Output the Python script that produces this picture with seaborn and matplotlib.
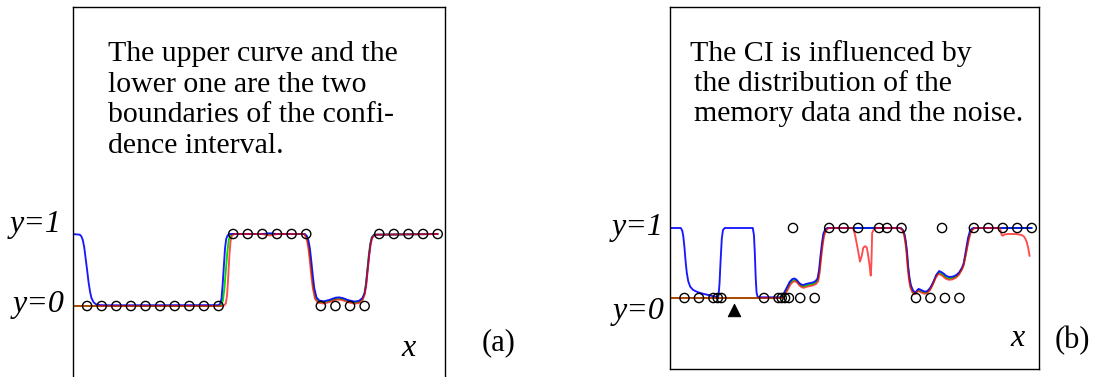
import numpy as np
import pandas as pd
import matplotlib
matplotlib.use("Agg")
import matplotlib.pyplot as plt
from matplotlib import font_manager
import seaborn as sns

# ---------------- panel (a) ----------------
a_mem_x = list(range(1, 26))
a_mem_y = [0] * 10 + [1] * 6 + [0] * 4 + [1] * 5

a_upper_x = [0, 0.5, 0.6, 0.7, 0.8, 0.9, 1.0, 1.1, 1.2, 1.3, 1.45, 1.6, 1.9, 2.5,
             10.0, 10.1, 10.2, 10.28, 10.36, 10.44, 10.52, 10.62, 10.75,
             12.0, 13.0, 13.5, 14.0, 15.9, 16.05, 16.15, 16.25, 16.35, 16.45,
             16.55, 16.7, 16.9, 17.2, 17.6, 18.0, 18.25, 18.5, 18.9, 19.3, 19.6,
             19.85, 20.0, 20.1, 20.2, 20.3, 20.4, 20.5, 20.65, 25.0]
a_upper_y = [1.0, 0.99, 0.97, 0.92, 0.82, 0.66, 0.5, 0.33, 0.2, 0.11, 0.05, 0.025, 0.012, 0.01,
             0.012, 0.03, 0.1, 0.3, 0.55, 0.8, 0.93, 0.98, 1.0,
             1.0, 1.0, 1.01, 1.0, 1.0, 0.97, 0.91, 0.8, 0.62, 0.42,
             0.25, 0.12, 0.075, 0.065, 0.085, 0.115, 0.12, 0.11, 0.08, 0.062, 0.07,
             0.11, 0.18, 0.3, 0.5, 0.7, 0.86, 0.95, 0.99, 1.0]

a_mean_x = [0, 10.1, 10.2, 10.3, 10.4, 10.5, 10.6, 10.7, 10.8, 10.95, 13.0,
            15.88, 16.0, 16.1, 16.2, 16.3, 16.4, 16.5, 16.65, 16.85, 17.2, 17.6,
            18.0, 18.25, 18.5, 18.9, 19.3, 19.6, 19.85, 19.98, 20.08, 20.18,
            20.28, 20.38, 20.48, 20.63, 25.0]
a_mean_y = [0, 0, 0.02, 0.08, 0.25, 0.5, 0.75, 0.92, 0.98, 1.0, 1.0,
            1.0, 0.97, 0.91, 0.8, 0.62, 0.42, 0.25, 0.11, 0.06, 0.05, 0.07,
            0.1, 0.105, 0.095, 0.065, 0.048, 0.055, 0.095, 0.17, 0.3, 0.5,
            0.7, 0.86, 0.95, 0.99, 1.0]

a_lower_x = [0, 10.3, 10.4, 10.5, 10.58, 10.66, 10.74, 10.82, 10.92, 11.1,
             13.0, 13.3, 13.5, 13.7, 14.0, 15.85, 15.95, 16.05, 16.15, 16.25,
             16.35, 16.45, 16.6, 16.8, 17.2, 17.6, 18.0, 18.25, 18.5, 18.9,
             19.3, 19.6, 19.85, 20.0, 20.1, 20.2, 20.3, 20.4, 20.5, 20.7, 25.0]
a_lower_y = [0, 0, 0.01, 0.04, 0.15, 0.4, 0.7, 0.9, 0.98, 1.0,
             1.0, 0.985, 0.98, 0.985, 1.0, 1.0, 0.97, 0.91, 0.8, 0.62,
             0.42, 0.25, 0.1, 0.045, 0.035, 0.055, 0.085, 0.09, 0.08, 0.05,
             0.033, 0.04, 0.08, 0.16, 0.28, 0.48, 0.68, 0.85, 0.94, 0.99, 1.0]

# ---------------- panel (b) ----------------
b_mem_x = [1, 2, 3, 3.3, 3.55, 6.5, 7.5, 7.72, 7.95, 8.22, 8.5, 9, 10, 11, 12, 13,
           14.45, 15, 16, 17, 18, 18.8, 19, 20, 21, 22, 23, 24, 25]
b_mem_y = [0, 0, 0, 0, 0, 0, 0, 0, 0, 0, 1, 0, 0, 1, 1, 1,
           1, 1, 1, 0, 0, 1, 0, 0, 1, 1, 1, 1, 1]

b_query_x = [4.42]
b_query_y = [-0.17]

b_upper_x = [0, 0.75, 0.85, 0.92, 1.0, 1.08, 1.16, 1.26, 1.4, 1.6, 1.9, 2.2, 2.6, 2.9,
             3.2, 3.35, 3.42, 3.5, 3.58, 3.66, 3.78, 5.72, 5.8, 5.86, 5.92, 5.98,
             6.05, 6.2, 7.6, 7.7, 7.8, 7.95, 8.1, 8.27, 8.45, 8.6, 8.75, 8.9, 9.05,
             9.2, 9.4, 9.6, 9.85, 10.05, 10.2, 10.3, 10.4, 10.5, 10.6, 10.72, 10.87,
             15.95, 16.1, 16.22, 16.3, 16.38, 16.46, 16.55, 16.65, 16.8, 16.92,
             17.0, 17.08, 17.18, 17.3, 17.45, 17.62, 17.8, 18.0, 18.2, 18.4, 18.6,
             18.75, 18.9, 19.1, 19.3, 19.55, 19.8, 20.0, 20.2, 20.3, 20.4, 20.5,
             20.6, 20.72, 20.85, 21.0, 25.0]
b_upper_y = [1, 1, 0.96, 0.88, 0.72, 0.52, 0.36, 0.24, 0.16, 0.115, 0.085, 0.065, 0.045, 0.03,
             0.015, 0.03, 0.2, 0.55, 0.85, 0.97, 1.0, 1.0, 0.9, 0.65, 0.3, 0.08,
             0.02, 0.01, 0.01, 0.02, 0.045, 0.1, 0.16, 0.23, 0.27, 0.28, 0.26, 0.22, 0.195,
             0.185, 0.2, 0.21, 0.22, 0.24, 0.28, 0.4, 0.6, 0.78, 0.92, 0.98, 1.0,
             1.0, 0.97, 0.9, 0.8, 0.66, 0.45, 0.29, 0.18, 0.105, 0.085,
             0.085, 0.11, 0.13, 0.12, 0.105, 0.09, 0.1, 0.15, 0.23, 0.33, 0.385,
             0.37, 0.35, 0.315, 0.3, 0.305, 0.33, 0.37, 0.44, 0.5, 0.62, 0.74,
             0.86, 0.95, 0.99, 1.0, 1.0]

b_mean_x = [0, 7.62, 7.72, 7.82, 7.97, 8.12, 8.29, 8.47, 8.62, 8.77, 8.92, 9.07, 9.22,
            9.42, 9.62, 9.87, 10.07, 10.22, 10.32, 10.42, 10.52, 10.62, 10.74, 10.9,
            15.93, 16.08, 16.2, 16.28, 16.36, 16.44, 16.53, 16.63, 16.78, 16.9, 16.98,
            17.06, 17.16, 17.28, 17.43, 17.6, 17.78, 17.98, 18.18, 18.38, 18.58, 18.73,
            18.88, 19.08, 19.28, 19.53, 19.78, 19.98, 20.18, 20.3, 20.42, 20.52, 20.62,
            20.74, 20.87, 21.02, 25.0]
b_mean_y = [0, 0, 0.005, 0.03, 0.08, 0.14, 0.21, 0.25, 0.26, 0.24, 0.2, 0.175, 0.165,
            0.18, 0.19, 0.2, 0.22, 0.26, 0.38, 0.58, 0.76, 0.9, 0.97, 1.0,
            1.0, 0.97, 0.9, 0.8, 0.66, 0.45, 0.28, 0.165, 0.09, 0.07, 0.07,
            0.095, 0.115, 0.105, 0.09, 0.075, 0.085, 0.13, 0.21, 0.31, 0.365, 0.35,
            0.33, 0.295, 0.28, 0.285, 0.31, 0.35, 0.42, 0.48, 0.6, 0.72, 0.84,
            0.93, 0.98, 1.0, 1.0]

b_lower_x = [0, 7.64, 7.74, 7.84, 7.99, 8.14, 8.31, 8.49, 8.64, 8.79, 8.94, 9.09, 9.24,
             9.44, 9.64, 9.89, 10.09, 10.24, 10.34, 10.44, 10.54, 10.64, 10.76, 10.95,
             12.65, 12.79, 12.9, 13.01, 13.13, 13.25, 13.36, 13.5, 13.6, 13.7, 13.8,
             13.87, 13.92, 13.97, 14.1, 14.3, 15.91, 16.06, 16.18, 16.26, 16.34, 16.42,
             16.51, 16.61, 16.76, 16.88, 16.96, 17.04, 17.14, 17.26, 17.41, 17.58,
             17.76, 17.96, 18.16, 18.36, 18.56, 18.71, 18.86, 19.06, 19.26, 19.51,
             19.76, 19.96, 20.16, 20.28, 20.4, 20.52, 20.64, 20.76, 20.89, 21.04,
             22.8, 22.92, 23.0, 23.15, 23.4, 23.72, 24.0, 24.3, 24.45, 24.55, 24.65,
             24.75, 24.85]
b_lower_y = [0, 0, 0, 0.015, 0.06, 0.12, 0.19, 0.23, 0.24, 0.22, 0.18, 0.155, 0.145,
             0.16, 0.17, 0.18, 0.2, 0.24, 0.36, 0.56, 0.74, 0.88, 0.96, 1.0,
             1.0, 0.9, 0.78, 0.66, 0.52, 0.6, 0.72, 0.74, 0.72, 0.6, 0.45,
             0.32, 0.5, 0.93, 0.985, 1.0, 1.0, 0.97, 0.9, 0.8, 0.66, 0.45,
             0.27, 0.15, 0.075, 0.055, 0.055, 0.08, 0.1, 0.09, 0.075, 0.06,
             0.07, 0.11, 0.19, 0.29, 0.345, 0.33, 0.31, 0.275, 0.26, 0.265,
             0.29, 0.33, 0.4, 0.46, 0.58, 0.7, 0.82, 0.92, 0.97, 1.0,
             1.0, 0.9, 0.89, 0.91, 0.915, 0.914, 0.912, 0.9, 0.88, 0.85, 0.8,
             0.72, 0.6]

a_note = ["The upper curve and the", "lower one are the two",
          "boundaries of the confi-", "dence interval."]
b_note = ["The CI is influenced by", "the distribution of the",
          "memory data and the noise."]

sns.set_style("white")
installed = {f.name for f in font_manager.fontManager.ttflist}
serif = [n for n in ["Liberation Serif", "Tinos", "Nimbus Roman", "Times New Roman"]
         if n in installed] or ["DejaVu Serif"]
plt.rcParams["font.family"] = serif + ["DejaVu Serif"]
plt.rcParams["text.color"] = "black"

W, H = 1097, 377
fig = plt.figure(figsize=(W / 100, H / 100), dpi=100)


def frac_box(left, top, right, bottom):
    return [left / W, 1 - bottom / H, (right - left) / W, (bottom - top) / H]


ax_a = fig.add_axes(frac_box(72.5, 7, 445, 392))
ax_b = fig.add_axes(frac_box(670, 7, 1039, 369))


def draw_panel(ax, mean_x, mean_y, upper_x, upper_y, lower_x, lower_y, mem_x, mem_y):
    sns.lineplot(data=pd.DataFrame({"x": mean_x, "y": mean_y}), x="x", y="y",
                 sort=False, estimator=None, color="#00dd00", lw=1.35, alpha=1.0, ax=ax)
    sns.lineplot(data=pd.DataFrame({"x": upper_x, "y": upper_y}), x="x", y="y",
                 sort=False, estimator=None, color="#0000ff", lw=1.35, alpha=0.9, ax=ax)
    sns.lineplot(data=pd.DataFrame({"x": lower_x, "y": lower_y}), x="x", y="y",
                 sort=False, estimator=None, color="#ff0000", lw=1.35, alpha=0.7, ax=ax)
    sns.scatterplot(data=pd.DataFrame({"x": mem_x, "y": mem_y}), x="x", y="y",
                    marker="o", s=44, facecolors="none", edgecolors="black",
                    linewidth=1.0, ax=ax, zorder=5)
    ax.set_xlim(0, 25.5)
    ax.set_xticks([])
    ax.set_yticks([])
    ax.set_xlabel("")
    ax.set_ylabel("")
    for sp in ax.spines.values():
        sp.set_color("black")
        sp.set_linewidth(1.0)


draw_panel(ax_a, a_mean_x, a_mean_y, a_upper_x, a_upper_y, a_lower_x, a_lower_y, a_mem_x, a_mem_y)
ax_a.set_ylim(-86 / 72, 299 / 72)

draw_panel(ax_b, b_mean_x, b_mean_y, b_upper_x, b_upper_y, b_lower_x, b_lower_y, b_mem_x, b_mem_y)
sns.scatterplot(data=pd.DataFrame({"x": b_query_x, "y": b_query_y}), x="x", y="y",
                marker="^", s=80, color="black", edgecolor="black", ax=ax_b, zorder=6)
ax_b.set_xlabel("")
ax_b.set_ylabel("")
ax_b.set_ylim(-71 / 70, 291 / 70)


def put(px, py, s, **kw):
    fig.text(px / W, 1 - py / H, s, color="black", **kw)


for i, line in enumerate(a_note):
    put(108, 61 + 30.7 * i, line, fontsize=21.5, ha="left", va="baseline")
put(690, 61, b_note[0], fontsize=21.5, ha="left", va="baseline")
for i, line in enumerate(b_note[1:]):
    put(694.5, 91 + 30 * i, line, fontsize=21.5, ha="left", va="baseline")

lab = dict(fontsize=23, style="italic", ha="left", va="baseline")
put(10, 232, "y=1", **lab)
put(12.5, 312, "y=0", **lab)
put(611.5, 235, "y=1", **lab)
put(613, 319, "y=0", **lab)
put(401.5, 356, "x", **lab)
put(1010, 346, "x", **lab)

put(499, 342.5, "(a)", fontsize=22, ha="center", va="center")
put(1072.5, 341, "(b)", fontsize=22, ha="center", va="center")

fig.savefig("out.png", dpi=100)
